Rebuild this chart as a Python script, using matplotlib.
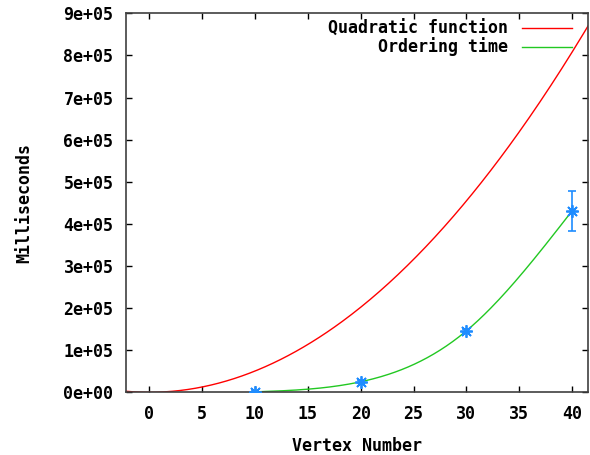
import numpy as np
import matplotlib
matplotlib.use("Agg")
import matplotlib.pyplot as plt

# Data
vertex = [10, 20, 30, 40]
order_ms = [1000, 25000, 146000, 431000]
order_err = [1500, 4000, 5000, 47500]
quad_coef = 505.0  # quadratic function a*x^2

x_ticks = [0, 5, 10, 15, 20, 25, 30, 35, 40]
y_ticks = [0, 1e5, 2e5, 3e5, 4e5, 5e5, 6e5, 7e5, 8e5, 9e5]
y_tick_labels = ["0e+00", "1e+05", "2e+05", "3e+05", "4e+05",
                 "5e+05", "6e+05", "7e+05", "8e+05", "9e+05"]


def natural_spline(xs, ys, n=200):
    xs = np.asarray(xs, float)
    ys = np.asarray(ys, float)
    m = len(xs)
    h = np.diff(xs)
    A = np.zeros((m, m))
    b = np.zeros(m)
    A[0, 0] = 1
    A[-1, -1] = 1
    for i in range(1, m - 1):
        A[i, i - 1] = h[i - 1]
        A[i, i] = 2 * (h[i - 1] + h[i])
        A[i, i + 1] = h[i]
        b[i] = 6 * ((ys[i + 1] - ys[i]) / h[i] - (ys[i] - ys[i - 1]) / h[i - 1])
    M = np.linalg.solve(A, b)
    xx = np.linspace(xs[0], xs[-1], n)
    yy = np.empty_like(xx)
    for k, x in enumerate(xx):
        i = min(np.searchsorted(xs, x, side="right") - 1, m - 2)
        i = max(i, 0)
        t0 = xs[i + 1] - x
        t1 = x - xs[i]
        hi = h[i]
        yy[k] = (M[i] * t0 ** 3 / (6 * hi) + M[i + 1] * t1 ** 3 / (6 * hi)
                 + (ys[i] / hi - M[i] * hi / 6) * t0
                 + (ys[i + 1] / hi - M[i + 1] * hi / 6) * t1)
    return xx, yy


FONT = "DejaVu Sans Mono"
plt.rcParams["font.family"] = FONT
plt.rcParams["font.weight"] = "bold"
FS = 12

fig = plt.figure(figsize=(5.9, 4.55), dpi=100)
ax = fig.add_axes([126 / 590, 1 - 392.3 / 455, (588 - 126) / 590, (392.3 - 13.3) / 455])

xlim = (-2.2, 41.5)
xq = np.linspace(xlim[0], xlim[1], 300)
ax.plot(xq, quad_coef * xq ** 2, color="#ff0000", lw=1.0, label="Quadratic function")

sx, sy = natural_spline(vertex, order_ms)
ax.plot(sx, sy, color="#22c822", lw=1.0, label="Ordering time")

ax.errorbar(vertex, order_ms, yerr=order_err, fmt="none", ecolor="#1e8cff",
            elinewidth=1.2, capsize=3, capthick=1.2, zorder=4)
ax.plot(vertex, order_ms, linestyle="none", marker=(8, 2, 0), markersize=9,
        markeredgecolor="#1e8cff", markeredgewidth=1.3, zorder=5)

ax.set_xlim(*xlim)
ax.set_ylim(0, 9e5)
ax.set_xticks(x_ticks)
ax.set_xticklabels([str(t) for t in x_ticks])
ax.set_yticks(y_ticks)
ax.set_yticklabels(y_tick_labels)

ax.tick_params(direction="in", length=4, width=1, top=True, right=True,
               labelsize=FS, colors="black")
ax.tick_params(axis="x", pad=9)
ax.tick_params(axis="y", pad=9)
for s in ax.spines.values():
    s.set_color("#404040")
    s.set_linewidth(1.2)

ax.set_xlabel("Vertex Number", fontsize=FS, fontweight="bold", labelpad=10)
ax.set_ylabel("Milliseconds", fontsize=FS, fontweight="bold", labelpad=22)

leg = ax.legend(loc="upper right", bbox_to_anchor=(0.974, 0.995), frameon=False,
                fontsize=FS, markerfirst=False,
                handlelength=3.0, handletextpad=0.8, borderaxespad=0.1,
                borderpad=0.15, labelspacing=0.0)
for t in leg.get_texts():
    t.set_ha("right")
leg._legend_box.align = "right"

fig.savefig("out.png", dpi=100)
